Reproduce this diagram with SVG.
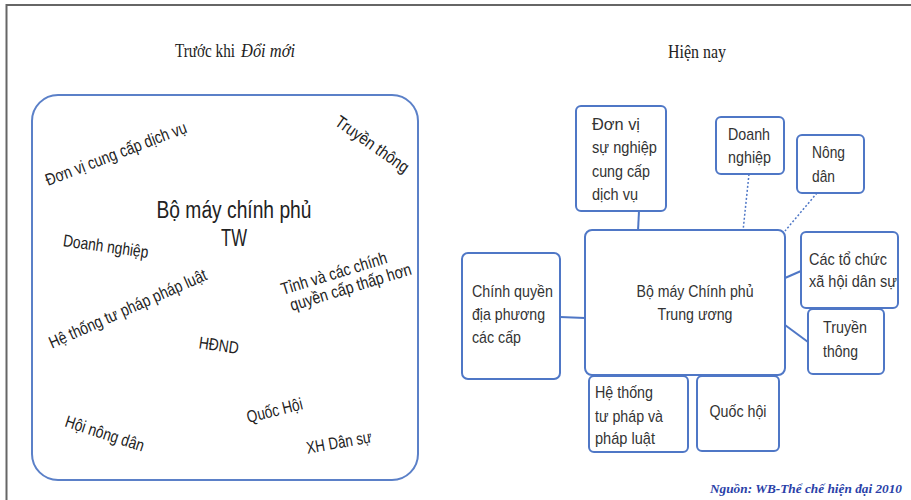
<svg xmlns="http://www.w3.org/2000/svg" width="911" height="500" viewBox="0 0 911 500">
<style>
.frame{stroke:#666;stroke-width:2;fill:none}
.box{fill:#fff;stroke:#4f77c6;stroke-width:2}
.big{fill:#fff;stroke:#5b80c8;stroke-width:2}
.t{font-family:"Liberation Sans",Arial,sans-serif;font-size:17px;fill:#333}
.lt{font-family:"Liberation Sans",Arial,sans-serif;font-size:17px;fill:#222}
.lg{font-family:"Liberation Sans",Arial,sans-serif;font-size:23px;fill:#222}
.ttl{font-family:"Liberation Serif","Times New Roman",serif;font-size:18px;fill:#222}
.src{font-family:"Liberation Serif","Times New Roman",serif;font-size:13px;font-weight:bold;font-style:italic;fill:#2a3fa8}
.c{stroke:#4f77c6;stroke-width:2;fill:none}
.d{stroke:#4f77c6;stroke-width:1.5;fill:none;stroke-dasharray:2,2}
</style>
<rect width="911" height="500" fill="#fff"/>
<path class="frame" d="M6.5 500 V5 H911"/>

<text class="ttl" x="175" y="57" textLength="60" lengthAdjust="spacingAndGlyphs">Trước khi</text>
<text class="ttl" x="241" y="57" font-style="italic" textLength="54" lengthAdjust="spacingAndGlyphs">Đổi mới</text>
<text class="ttl" x="697" y="58" text-anchor="middle" textLength="58" lengthAdjust="spacingAndGlyphs">Hiện nay</text>

<g id="left-panel">
<rect class="big" x="32" y="95" width="386" height="385" rx="26"/>
<text class="lg" text-anchor="middle" x="234" y="218" textLength="155" lengthAdjust="spacingAndGlyphs">Bộ máy chính phủ</text>
<text class="lg" text-anchor="middle" x="234" y="246" textLength="26" lengthAdjust="spacingAndGlyphs">TW</text>
<text class="lt" text-anchor="middle" transform="translate(118,159) rotate(-21)" textLength="150" lengthAdjust="spacingAndGlyphs">Đơn vị cung cấp dịch vụ</text>
<text class="lt" text-anchor="middle" transform="translate(369,149) rotate(35)" textLength="86" lengthAdjust="spacingAndGlyphs">Truyền thông</text>
<text class="lt" text-anchor="middle" transform="translate(105,252) rotate(8)" textLength="86" lengthAdjust="spacingAndGlyphs">Doanh nghiệp</text>
<text class="lt" text-anchor="middle" transform="translate(130,314) rotate(-24)" textLength="171" lengthAdjust="spacingAndGlyphs">Hệ thống tư pháp pháp luật</text>
<text class="lt" text-anchor="middle" transform="translate(218,351) rotate(8)" textLength="40" lengthAdjust="spacingAndGlyphs">HĐND</text>
<text class="lt" transform="translate(283,295) rotate(-17)"><tspan x="0" y="0" textLength="110" lengthAdjust="spacingAndGlyphs">Tỉnh và các chính</tspan><tspan x="4" y="18" textLength="126" lengthAdjust="spacingAndGlyphs">quyền cấp thấp hơn</tspan></text>
<text class="lt" text-anchor="middle" transform="translate(103,439) rotate(18)" textLength="82" lengthAdjust="spacingAndGlyphs">Hội nông dân</text>
<text class="lt" text-anchor="middle" transform="translate(276,416) rotate(-14)" textLength="57" lengthAdjust="spacingAndGlyphs">Quốc Hội</text>
<text class="lt" text-anchor="middle" transform="translate(340,448) rotate(-10)" textLength="66" lengthAdjust="spacingAndGlyphs">XH Dân sự</text>
</g>

<g id="connectors">
<line class="c" x1="639" y1="211" x2="638" y2="231"/>
<line class="d" x1="749" y1="174" x2="743" y2="231"/>
<line class="d" x1="817" y1="193" x2="785" y2="231"/>
<line class="c" x1="785" y1="278" x2="801" y2="271"/>
<line class="c" x1="785" y1="325" x2="808" y2="342"/>
<line class="c" x1="560" y1="317" x2="585" y2="318"/>
</g>

<g id="n-main">
<rect class="box" x="585" y="230" width="200" height="145" rx="7"/>
<text class="t" text-anchor="middle"><tspan x="695" y="297" textLength="117" lengthAdjust="spacingAndGlyphs">Bộ máy Chính phủ</tspan><tspan x="695" y="320" textLength="75" lengthAdjust="spacingAndGlyphs">Trung ương</tspan></text>
</g>
<g id="n-donvi">
<rect class="box" x="576" y="106" width="90" height="105" rx="5"/>
<text class="t"><tspan x="592" y="130" textLength="48" lengthAdjust="spacingAndGlyphs">Đơn vị</tspan><tspan x="592" y="153" textLength="65" lengthAdjust="spacingAndGlyphs">sự nghiệp</tspan><tspan x="592" y="177" textLength="58" lengthAdjust="spacingAndGlyphs">cung cấp</tspan><tspan x="592" y="200" textLength="46" lengthAdjust="spacingAndGlyphs">dịch vụ</tspan></text>
</g>
<g id="n-doanhnghiep">
<rect class="box" x="716" y="117" width="68" height="57" rx="5"/>
<text class="t"><tspan x="728" y="140" textLength="42" lengthAdjust="spacingAndGlyphs">Doanh</tspan><tspan x="728" y="163" textLength="43" lengthAdjust="spacingAndGlyphs">nghiệp</tspan></text>
</g>
<g id="n-nongdan">
<rect class="box" x="797" y="135" width="67" height="58" rx="5"/>
<text class="t"><tspan x="812" y="158" textLength="33" lengthAdjust="spacingAndGlyphs">Nông</tspan><tspan x="812" y="182" textLength="23" lengthAdjust="spacingAndGlyphs">dân</tspan></text>
</g>
<g id="n-tochuc">
<rect class="box" x="801" y="232" width="97" height="76" rx="5"/>
<text class="t"><tspan x="809" y="265" textLength="78" lengthAdjust="spacingAndGlyphs">Các tổ chức</tspan><tspan x="809" y="287" textLength="88" lengthAdjust="spacingAndGlyphs">xã hội dân sự</tspan></text>
</g>
<g id="n-truyenthong">
<rect class="box" x="808" y="309" width="76" height="65" rx="5"/>
<text class="t"><tspan x="823" y="333" textLength="44" lengthAdjust="spacingAndGlyphs">Truyền</tspan><tspan x="823" y="357" textLength="35" lengthAdjust="spacingAndGlyphs">thông</tspan></text>
</g>
<g id="n-chinhquyen">
<rect class="box" x="462" y="253" width="98" height="126" rx="6"/>
<text class="t"><tspan x="472" y="297" textLength="81" lengthAdjust="spacingAndGlyphs">Chính quyền</tspan><tspan x="472" y="320" textLength="73" lengthAdjust="spacingAndGlyphs">địa phương</tspan><tspan x="472" y="343" textLength="49" lengthAdjust="spacingAndGlyphs">các cấp</tspan></text>
</g>
<g id="n-hethong">
<rect class="box" x="589" y="376" width="99" height="76" rx="5"/>
<text class="t"><tspan x="595" y="398" textLength="58" lengthAdjust="spacingAndGlyphs">Hệ thống</tspan><tspan x="595" y="422" textLength="68" lengthAdjust="spacingAndGlyphs">tư pháp và</tspan><tspan x="595" y="444" textLength="60" lengthAdjust="spacingAndGlyphs">pháp luật</tspan></text>
</g>
<g id="n-quochoi">
<rect class="box" x="697" y="376" width="82" height="75" rx="5"/>
<text class="t" x="738" y="417" text-anchor="middle" textLength="57" lengthAdjust="spacingAndGlyphs">Quốc hội</text>
</g>

<text class="src" x="902" y="493" text-anchor="end" textLength="192" lengthAdjust="spacingAndGlyphs">Nguồn: WB-Thể chế hiện đại 2010</text>
</svg>
